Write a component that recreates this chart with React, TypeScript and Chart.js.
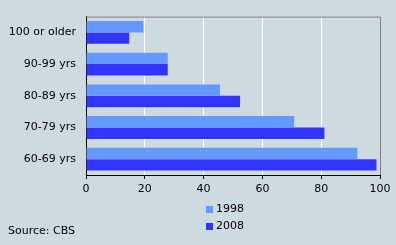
import React, { useEffect, useRef } from "react";
import { Chart, registerables } from "chart.js";

Chart.register(...registerables);

const categories = ["100 or older", "90-99 yrs", "80-89 yrs", "70-79 yrs", "60-69 yrs"];
const series1998 = [19.5, 27.8, 45.6, 70.8, 92.3];
const series2008 = [14.7, 27.8, 52.4, 81.1, 98.8];
const seriesLabels = ["1998", "2008"];
const xTicks = [0, 20, 40, 60, 80, 100];
const sourceText = "Source: CBS";

const BG = "#cddae0";
const C1998 = "#6699ff";
const C2008 = "#3333ff";
const FONT = "DejaVu Sans";

const extrasPlugin = {
  id: "extras",
  afterDraw(chart: any) {
    const { ctx, chartArea } = chart;
    ctx.save();
    // top and right border
    ctx.strokeStyle = "#808080";
    ctx.lineWidth = 1;
    ctx.beginPath();
    ctx.moveTo(chartArea.left, chartArea.top + 0.5);
    ctx.lineTo(chartArea.right + 0.5, chartArea.top + 0.5);
    ctx.lineTo(chartArea.right + 0.5, chartArea.bottom);
    ctx.stroke();
    // legend
    ctx.font = `11px ${FONT}`;
    ctx.textBaseline = "middle";
    ctx.textAlign = "left";
    chart.data.datasets.forEach((ds: any, i: number) => {
      const y = 209 + i * 17;
      ctx.fillStyle = ds.backgroundColor;
      ctx.fillRect(206, y - 3, 7, 7);
      ctx.fillStyle = "#000";
      ctx.fillText(ds.label, 216, y);
    });
    // source
    ctx.fillStyle = "#000";
    ctx.fillText(sourceText, 8, 231);
    ctx.restore();
  },
};

export default function App() {
  const ref = useRef<HTMLCanvasElement>(null);
  useEffect(() => {
    document.body.style.margin = "0";
    document.body.style.background = BG;
    const chart = new Chart(ref.current as HTMLCanvasElement, {
      type: "bar",
      data: {
        labels: categories,
        datasets: [
          { label: seriesLabels[0], data: series1998, backgroundColor: C1998, categoryPercentage: 0.72, barPercentage: 1 },
          { label: seriesLabels[1], data: series2008, backgroundColor: C2008, categoryPercentage: 0.72, barPercentage: 1 },
        ],
      },
      options: {
        indexAxis: "y",
        animation: false,
        responsive: false,
        maintainAspectRatio: false,
        layout: { padding: { left: 0, right: 16, top: 9, bottom: 45 } },
        plugins: { legend: { display: false }, tooltip: { enabled: false } },
        scales: {
          x: {
            min: 0,
            max: 100,
            afterBuildTicks(scale: any) {
              scale.ticks = xTicks.map((v) => ({ value: v }));
            },
            afterFit(scale: any) {
              scale.height = 25;
            },
            grid: { color: "#ffffff", lineWidth: 1, tickColor: "#000", tickLength: 4, drawTicks: true },
            border: { color: "#000", width: 1 },
            ticks: { color: "#000", font: { family: FONT, size: 11 }, padding: 4, maxRotation: 0 },
          },
          y: {
            afterFit(scale: any) {
              scale.width = 86;
            },
            grid: { display: false, drawTicks: false },
            border: { color: "#000", width: 1 },
            ticks: { color: "#000", font: { family: FONT, size: 11 }, padding: 10 },
          },
        },
      },
      plugins: [extrasPlugin],
    });
    return () => chart.destroy();
  }, []);
  return (
    <div style={{ width: 396, height: 245, background: BG }}>
      <canvas ref={ref} width={396} height={245} style={{ display: "block" }} />
    </div>
  );
}
